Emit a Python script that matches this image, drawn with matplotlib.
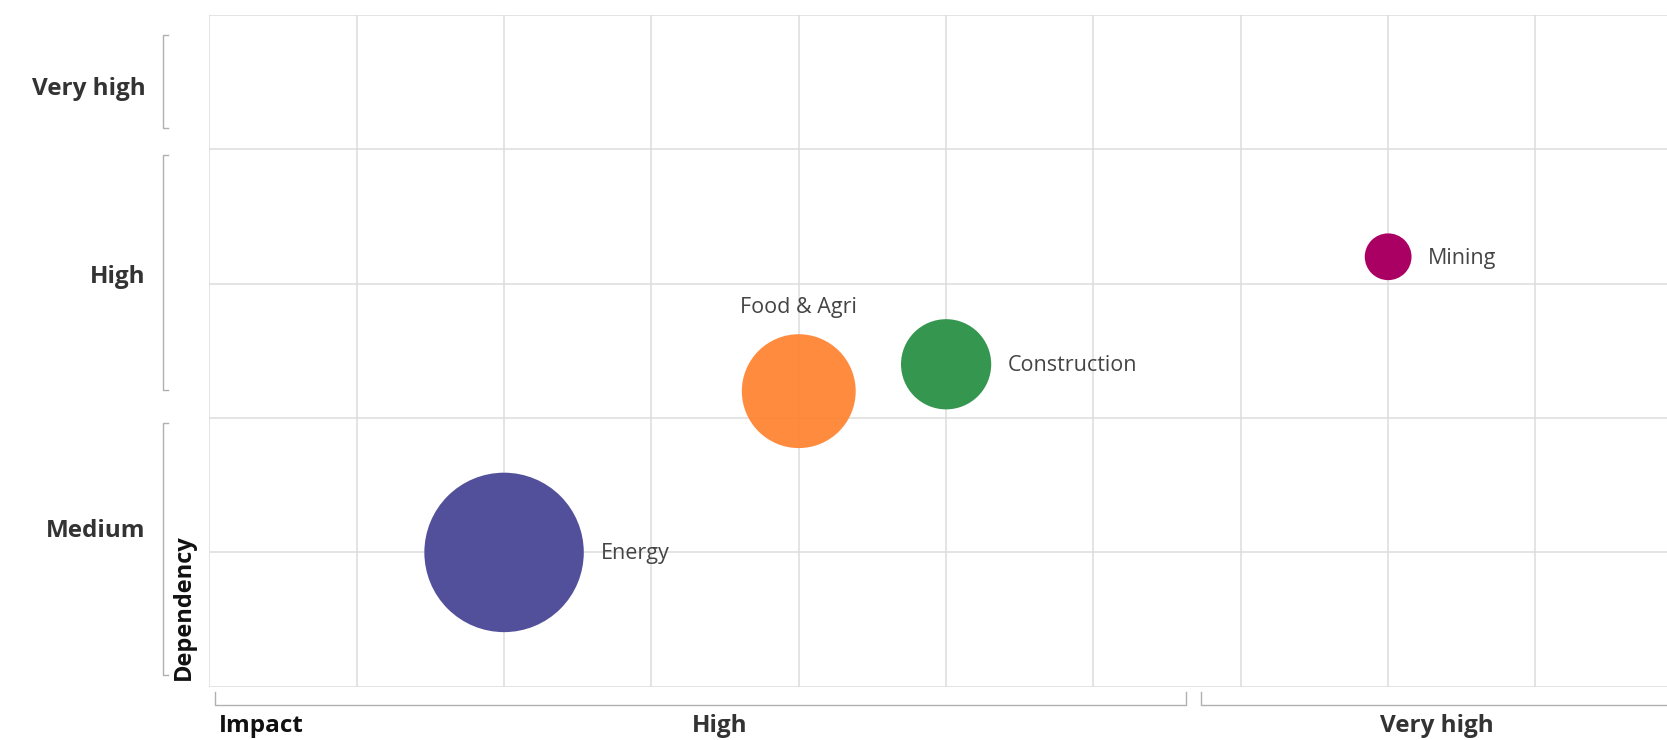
import matplotlib
matplotlib.use("Agg")
import matplotlib.pyplot as plt
import matplotlib.transforms as mtransforms
import numpy as np

# ---- data ----
sectors = ["Energy", "Food & Agri", "Construction", "Mining"]
impact = [2, 4, 5, 8]
dependency = [1.0, 2.2, 2.4, 3.2]
bubble_size = [100, 51, 32, 8.6]
colors = ["#52509A", "#FF7F2A", "#359650", "#AA0063"]
alphas = [1.0, 0.9, 1.0, 1.0]
label_pos = ["right", "top", "right", "right"]

dep_levels = ["Medium", "High", "Very high"]
dep_label_y = [1.16, 3.05, 4.45]
dep_bands = [(0.09, 1.96), (2.21, 3.96), (4.16, 4.85)]

imp_levels = ["High", "Very high"]
imp_label_x = [3.46, 8.33]
imp_bands = [(0.04, 6.63), (6.73, 10.6)]

plt.rcParams['font.family'] = ['Open Sans', 'DejaVu Sans']

fig = plt.figure(figsize=(16.67, 7.40), dpi=100)
ax = fig.add_axes([0.1256, 0.0719, 0.8839, 0.908])
ax.set_xlim(0, 10)
ax.set_ylim(0, 5)

# grid
for x in range(0, 11):
    ax.axvline(x, color="#dcdcdc", lw=1.1, zorder=0)
for y in range(0, 6):
    ax.axhline(y, color="#dcdcdc", lw=1.1, zorder=0)
for s in ax.spines.values():
    s.set_visible(False)
ax.set_xticks([])
ax.set_yticks([])

K = 131.8
for sec, xi, yi, sz, c, a, lp in zip(sectors, impact, dependency, bubble_size, colors, alphas, label_pos):
    s = sz * K
    ax.scatter([xi], [yi], s=s, color=c, alpha=a, edgecolors="none", zorder=3)
    r_pt = np.sqrt(s) / 2
    if lp == "right":
        ax.annotate(sec, (xi, yi), xytext=(r_pt + 12, -1), textcoords="offset points",
                    ha="left", va="center", fontsize=15.5, color="#444444", zorder=4)
    else:
        ax.annotate(sec, (xi, yi), xytext=(0, r_pt + 19), textcoords="offset points",
                    ha="center", va="center", fontsize=15.5, color="#444444", zorder=4)

# y-axis category brackets
ty = mtransforms.blended_transform_factory(ax.transAxes, ax.transData)
bx, btick = -0.0317, -0.0281
for lab, ly, (b0, b1) in zip(dep_levels, dep_label_y, dep_bands):
    ax.plot([btick, bx, bx, btick], [b0, b0, b1, b1], transform=ty, color="#b0b0b0",
            lw=1, clip_on=False)
    ax.text(-0.0433, ly, lab, transform=ty, ha="right", va="center", fontsize=17.5,
            fontweight="bold", color="#333333")

ax.text(-0.0173, 0.0095, "Dependency", transform=ax.transAxes, rotation=90,
        ha="center", va="bottom", fontsize=17, fontweight="bold", color="#111111")

# x-axis category brackets
tx = mtransforms.blended_transform_factory(ax.transData, ax.transAxes)
by, btop = -0.0268, -0.0079
for lab, lx, (b0, b1) in zip(imp_levels, imp_label_x, imp_bands):
    ax.plot([b0, b0, b1, b1], [btop, by, by, btop], transform=tx, color="#b0b0b0",
            lw=1, clip_on=False)
    ax.text(lx, -0.0583, lab, transform=tx, ha="center", va="center", fontsize=17.5,
            fontweight="bold", color="#333333")

ax.text(0.065, -0.0583, "Impact", transform=tx, ha="left", va="center", fontsize=17.5,
        fontweight="bold", color="#111111")

fig.savefig("out.png", dpi=100)
